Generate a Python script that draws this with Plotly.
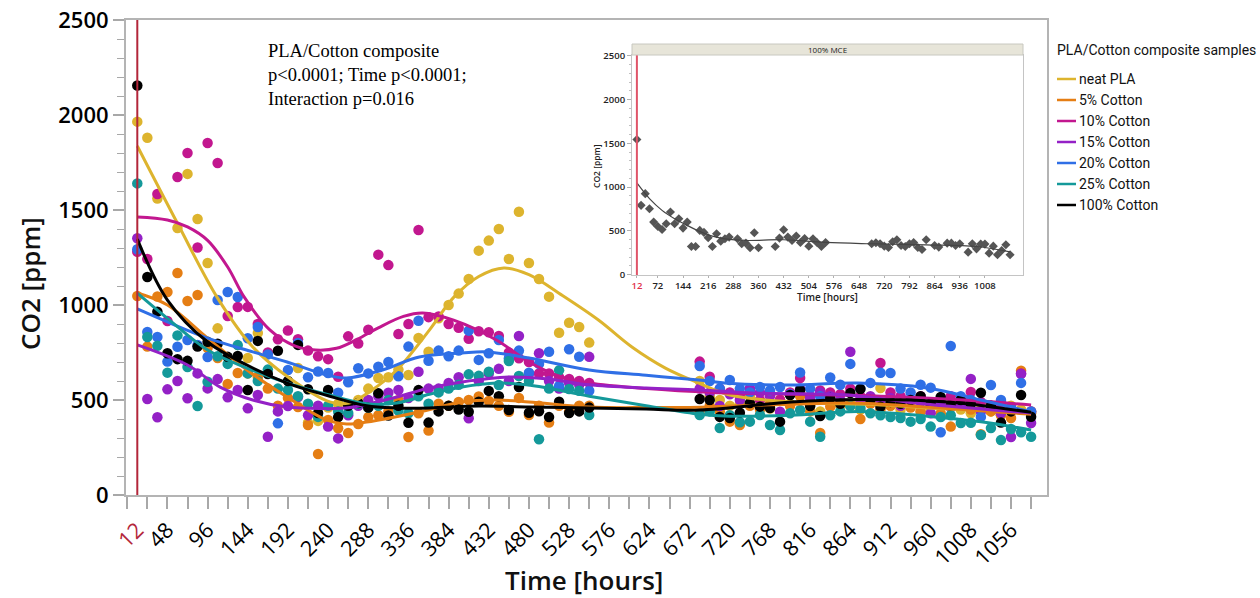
import plotly.graph_objects as go

# ---------------- data ----------------
TIME_H = [12, 24, 36, 48, 60, 72, 84, 96, 108, 120, 132, 144, 156, 168, 180, 192, 204, 216, 228, 240,
          252, 264, 276, 288, 300, 312, 324, 336, 348, 360, 372, 384, 396, 408, 420, 432, 444, 456, 468, 480,
          492, 504, 516, 528, 540, 552,
          684, 696, 708, 720, 732, 744, 756, 768, 780, 792, 804, 816, 828, 840, 852, 864, 876, 888, 900, 912,
          924, 936, 948, 960, 972, 984, 996, 1008, 1020, 1032, 1044, 1056, 1068, 1080]

NEAT_PLA = [1965, 1880, 1560, None, 1405, 1690, 1453, 1221, 877, None, None, 721, 853, None, None, None, 668, 380, 390, 460,
            480, 470, 500, 560, 616, 620, 660, 632, 826, 754, 930, 1000, 1060, 1137, 1286, 1339, 1400, 1242, 1491, 1221,
            1137, 1044, 854, 907, 884, 802,
            600, 520, 500, 470, 480, 520, 470, 455, 500, 480, 540, 470, 440, 500, 470, 480, 450, 500, 563, 470,
            450, 480, 440, 460, 420, 470, 450, 430, 480, 440, 420, 470, 450, 440]
COTTON_5 = [1047, 781, 1045, 1068, 1168, 1021, 1053, 774, 721, 584, 642, 640, 621, 560, 470, 511, 463, 368, 216, 395,
            351, 326, 374, 410, 420, 440, 500, 305, 430, 339, 480, 470, 490, 500, 518, 495, 470, 438, 511, 421,
            470, 381, 470, 440, 470, 470,
            430, 470, 440, 386, 368, 470, 450, 480, 500, 470, 520, 440, 326, 465, 490, 470, 400, 480, 450, 470,
            500, 460, 440, 470, 430, 360, 480, 450, 320, 440, 420, 405, 654, 430]
COTTON_10 = [1280, 1242, 1584, 916, 1674, 1800, 1303, 1853, 1747, 942, 989, 990, 900, 750, 820, 866, 820, 760, 730, 715,
             622, 835, 797, 870, 1265, 1210, 847, 900, 1395, 936, 940, 900, 880, 822, 862, 857, 837, 750, 720, 700,
             640, 640, 620, 611, 600, 590,
             702, 623, 560, 540, 520, 560, 500, 530, 500, 540, 616, 520, 550, 540, 530, 560, 520, 500, 695, 540,
             520, 500, 520, 480, 500, 520, 470, 542, 490, 470, 480, 460, 640, 440]
COTTON_15 = [1351, 505, 409, 556, 600, 509, 640, 561, 610, 514, 553, 456, 526, 307, 440, 468, 516, 420, 470, 360,
             298, 420, 470, 500, 520, 538, 553, 510, 649, 560, 560, 590, 620, 404, 600, 640, 664, 600, 837, 640,
             746, 600, 560, 590, 580, 727,
             560, 540, 468, 530, 500, 560, 540, 520, 438, 530, 560, 510, 540, 520, 500, 754, 500, 520, 480, 510,
             470, 500, 490, 430, 480, 460, 470, 611, 440, 460, 430, 305, 637, 379]
COTTON_20 = [1293, 858, 832, 702, 780, 816, 790, 726, 1026, 1068, 1042, 825, 884, 740, 377, 658, 800, 620, 650, 642,
             538, 593, 667, 640, 675, 700, 625, 781, 917, 707, 760, 730, 760, 865, 711, 746, 816, 720, 760, 644,
             690, 754, 574, 767, 728, 549,
             679, 600, 560, 605, 560, 540, 568, 550, 568, 530, 645, 560, 520, 618, 580, 690, 560, 590, 643, 642,
             560, 540, 580, 565, 330, 784, 520, 500, 411, 579, 500, 460, 590, 440]
COTTON_25 = [1640, 832, 785, 644, 840, 674, 468, 596, 730, 690, 789, 640, 600, 660, 560, 553, 520, 480, 411, 470,
             440, 432, 480, 460, 470, 500, 444, 430, 520, 480, 540, 560, 580, 635, 627, 649, 579, 705, 626, 600,
             293, 560, 656, 558, 549, 421,
             421, 440, 353, 420, 383, 386, 421, 368, 342, 430, 447, 386, 307, 420, 440, 468, 458, 430, 420, 410,
             405, 386, 400, 360, 410, 420, 379, 380, 316, 352, 289, 347, 330, 307]
COTTON_100 = [2155, 1147, 965, 746, 715, 706, 781, 806, 796, 727, 732, 553, 811, 637, 759, 600, 790, 557, 432, 553,
              410, 470, 484, 460, 535, 418, 470, 380, 552, 381, 440, 470, 450, 438, 491, 548, 520, 447, 568, 433,
              441, 410, 491, 432, 440, 460,
              505, 500, 411, 405, 433, 484, 465, 458, 386, 526, 553, 468, 416, 510, 480, 537, 558, 500, 465, 490,
              480, 500, 520, 480, 516, 470, 500, 480, 538, 470, 381, 440, 526, 412]

# fitted smoothers (hours, ppm)
FIT_PLA_H = [12, 60, 108, 150, 192, 242, 265, 290, 322, 361, 390, 420, 450, 480, 520, 563, 603, 643, 683, 720, 793, 900, 980, 1080]
FIT_PLA = [1837, 1430, 1036, 779, 621, 490, 484, 545, 658, 868, 1040, 1150, 1195, 1160, 1050, 921, 779, 668, 589, 526, 490, 474, 452, 440]
FIT_5_H = [12, 48, 96, 143, 191, 238, 262, 286, 349, 400, 441, 480, 552, 620, 684, 792, 864, 950, 1030, 1080]
FIT_5 = [1063, 1000, 826, 658, 516, 395, 374, 384, 437, 490, 500, 490, 463, 460, 462, 478, 484, 465, 440, 425]
FIT_10_H = [12, 48, 72, 96, 120, 140, 170, 200, 225, 250, 275, 300, 330, 353, 390, 441, 480, 519, 552, 620, 700, 800, 900, 1000, 1080]
FIT_10 = [1463, 1447, 1411, 1340, 1200, 1040, 870, 785, 763, 772, 820, 880, 940, 958, 920, 816, 700, 621, 589, 560, 540, 530, 520, 500, 474]
FIT_15_H = [12, 72, 111, 150, 191, 230, 266, 322, 361, 400, 456, 500, 552, 620, 683, 760, 861, 950, 1080]
FIT_15 = [790, 684, 568, 500, 463, 455, 460, 516, 563, 595, 621, 612, 580, 563, 553, 535, 526, 480, 432]
FIT_20_H = [12, 48, 96, 150, 191, 238, 262, 305, 349, 400, 430, 480, 552, 620, 683, 718, 793, 873, 956, 1020, 1080]
FIT_20 = [979, 911, 826, 753, 700, 632, 616, 658, 726, 747, 753, 721, 658, 630, 605, 588, 579, 589, 563, 500, 437]
FIT_25_H = [12, 48, 96, 143, 191, 238, 286, 322, 361, 400, 441, 480, 552, 620, 684, 720, 793, 873, 956, 1020, 1080]
FIT_25 = [1063, 930, 763, 668, 590, 530, 480, 484, 530, 568, 589, 579, 520, 470, 425, 415, 420, 440, 415, 385, 342]
FIT_100_H = [12, 48, 96, 143, 191, 238, 286, 322, 361, 420, 480, 552, 620, 684, 793, 873, 980, 1080]
FIT_100 = [1347, 1026, 805, 684, 589, 525, 470, 458, 458, 468, 463, 458, 452, 447, 490, 503, 490, 435]

SERIES_NAMES = ["neat PLA", "5% Cotton", "10% Cotton", "15% Cotton", "20% Cotton", "25% Cotton", "100% Cotton"]

# inset: 100% MCE
INSET_H = [12, 24, 36, 48, 60, 72, 84, 96, 108, 120, 132, 144, 156, 168, 180, 192, 204, 216, 228, 240,
           252, 264, 276, 300, 312, 324, 336, 348, 360, 408, 420, 432, 444, 456, 468, 480, 492, 504, 516, 528,
           540, 552, 684, 696, 708, 720, 732, 744, 756, 768, 780, 792, 804, 816, 828, 840, 864, 876, 900, 912,
           924, 936, 960, 972, 984, 996, 1008, 1020, 1032, 1044, 1056, 1068, 1080]
INSET_CO2 = [1544, 791, 925, 753, 600, 550, 516, 581, 715, 581, 638, 531, 600, 321, 321, 505, 482, 420, 321, 466,
             382, 409, 428, 409, 352, 359, 306, 478, 306, 321, 417, 512, 428, 390, 440, 367, 413, 325, 409, 363,
             321, 367, 352, 363, 352, 325, 310, 375, 398, 333, 321, 352, 367, 310, 287, 398, 333, 314, 359, 359,
             333, 352, 256, 352, 294, 348, 348, 245, 325, 226, 275, 340, 226]
INSET_FIT_H = [12, 48, 84, 120, 156, 192, 228, 264, 324, 432, 552, 684, 840, 984, 1080]
INSET_FIT = [1047, 868, 734, 638, 562, 493, 440, 409, 390, 398, 367, 352, 340, 321, 260]

X_TICKS = [12, 48, 96, 144, 192, 240, 288, 336, 384, 432, 480, 528, 576, 624, 672, 720, 768, 816, 864, 912, 960, 1008, 1056]
Y_TICKS = [0, 500, 1000, 1500, 2000, 2500]
INSET_X_TICKS = [12, 72, 144, 216, 288, 360, 432, 504, 576, 648, 720, 792, 864, 936, 1008]

# ---------------- styles ----------------
COLORS = ["#DDB42E", "#E57E14", "#C2178F", "#9421C6", "#2F6FE6", "#14999A", "#000000"]
RED = "#B3263A"
FONT = "Open Sans"

L, R, T, B = 126, 1047, 20, 495


def px(x):
    return (x - L) / (R - L)


def py(y):
    return (B - y) / (B - T)


series_vals = [NEAT_PLA, COTTON_5, COTTON_10, COTTON_15, COTTON_20, COTTON_25, COTTON_100]
fits = [(FIT_PLA_H, FIT_PLA), (FIT_5_H, FIT_5), (FIT_10_H, FIT_10), (FIT_15_H, FIT_15),
        (FIT_20_H, FIT_20), (FIT_25_H, FIT_25), (FIT_100_H, FIT_100)]

fig = go.Figure()
for name, vals, col in zip(SERIES_NAMES, series_vals, COLORS):
    fig.add_trace(go.Scatter(x=TIME_H, y=vals, mode="markers", name=name, showlegend=False,
                             marker=dict(size=10.5, color=col), xaxis="x", yaxis="y"))
for name, (fh, fv), col in zip(SERIES_NAMES, fits, COLORS):
    fig.add_trace(go.Scatter(x=fh, y=fv, mode="lines", name=name, showlegend=False,
                             line=dict(color=col, width=3, shape="spline", smoothing=1.0),
                             xaxis="x", yaxis="y"))

# inset
fig.add_trace(go.Scatter(x=INSET_H, y=INSET_CO2, mode="markers", showlegend=False,
                         marker=dict(symbol="diamond", size=7, color="#555555"), xaxis="x2", yaxis="y2"))
fig.add_trace(go.Scatter(x=INSET_FIT_H, y=INSET_FIT, mode="lines", showlegend=False,
                         line=dict(color="#444444", width=1.2, shape="spline", smoothing=1.0),
                         xaxis="x2", yaxis="y2"))

ticktext = [f'<span style="color:{RED}">12</span>'] + [str(v) for v in X_TICKS[1:]]
inset_ticktext = ['<span style="color:#E0304A">12</span>'] + [str(v) for v in INSET_X_TICKS[1:]]

fig.update_layout(
    width=1260, height=598,
    margin=dict(l=L, r=1260 - R, t=T, b=598 - B, autoexpand=False),
    paper_bgcolor="white", plot_bgcolor="white",
    showlegend=False,
    font=dict(family=FONT, color="black"),
    xaxis=dict(domain=[0, 1], range=[-1.5, 1099], tickmode="array", tickvals=X_TICKS, ticktext=ticktext,
               tickangle=-45, ticks="outside", ticklen=12, tickcolor="rgba(0,0,0,0)", automargin=False,
               minor=dict(tickmode="linear", tick0=0, dtick=24, ticks="outside", ticklen=12,
                          tickcolor="#a8a8a8", tickwidth=1.5, showgrid=False),
               showline=True, linecolor="#b4b4b4", linewidth=2, mirror=True,
               showgrid=False, zeroline=False, tickfont=dict(size=21.5, color="black")),
    yaxis=dict(domain=[0, 1], range=[0, 2500], tickmode="array", tickvals=Y_TICKS, automargin=False,
               ticks="outside", ticklen=11, tickcolor="#a8a8a8", tickwidth=1.5,
               minor=dict(tickmode="linear", tick0=0, dtick=100, ticks="outside", ticklen=7,
                          tickcolor="#a8a8a8", tickwidth=1.2, showgrid=False),
               showline=True, linecolor="#b4b4b4", linewidth=2, mirror=True,
               showgrid=False, zeroline=False, tickfont=dict(size=22, color="black", weight=600)),
    xaxis2=dict(domain=[px(632), px(1023)], anchor="y2", range=[-2, 1117], tickmode="array",
                tickvals=INSET_X_TICKS, ticktext=inset_ticktext, ticks="outside", ticklen=2, automargin=False,
                tickcolor="#b0b0b0", showline=True, linecolor="#c4c4c4", linewidth=1, mirror=True,
                showgrid=False, zeroline=False, tickfont=dict(size=9.5, color="#222", weight=600)),
    yaxis2=dict(domain=[py(275), py(55)], anchor="x2", range=[-5, 2510], tickmode="array", automargin=False,
                tickvals=Y_TICKS, ticks="outside", ticklen=4, tickcolor="#b0b0b0",
                minor=dict(tickmode="linear", tick0=0, dtick=100, ticks="outside", ticklen=2,
                           tickcolor="#c0c0c0"),
                showline=True, linecolor="#c4c4c4", linewidth=1, mirror=True,
                showgrid=False, zeroline=False, tickfont=dict(size=9.5, color="#222", weight=600)),
)

shapes = [
    dict(type="line", xref="x", yref="y domain", x0=12, x1=12, y0=0, y1=1, line=dict(color=RED, width=2)),
    dict(type="line", xref="x2", yref="y2 domain", x0=12, x1=12, y0=0, y1=1, line=dict(color="#E05468", width=2)),
    dict(type="rect", xref="paper", yref="paper", x0=px(632), x1=px(1023), y0=py(55), y1=py(44),
         fillcolor="#E7E5D9", line=dict(color="#c8c8c0", width=1)),
]
annotations = [
    dict(text="100% MCE", xref="paper", yref="paper", x=(px(632) + px(1023)) / 2, y=py(49.5),
         showarrow=False, font=dict(size=8, color="#222"), xanchor="center", yanchor="middle"),
    dict(text="Time [hours]", xref="paper", yref="paper", x=px(827), y=py(297), showarrow=False,
         font=dict(size=10, color="#222", weight=600), xanchor="center", yanchor="middle"),
    dict(text="CO2 [ppm]", xref="paper", yref="paper", x=px(596), y=py(166), showarrow=False, textangle=-90,
         font=dict(size=8.5, color="#222", weight=600), xanchor="center", yanchor="middle"),
    dict(text="Time [hours]", xref="paper", yref="paper", x=px(584), y=py(580), showarrow=False,
         font=dict(size=26, color="#111", weight=600), xanchor="center", yanchor="middle"),
    dict(text="CO2 [ppm]", xref="paper", yref="paper", x=px(30), y=py(284), showarrow=False, textangle=-90,
         font=dict(size=26, color="#111", weight=600), xanchor="center", yanchor="middle"),
    dict(text="PLA/Cotton composite<br>p<0.0001; Time p<0.0001;<br>Interaction p=0.016",
         xref="paper", yref="paper", x=px(266), y=py(74.5), showarrow=False, align="left",
         font=dict(family="Liberation Serif", size=18.5, color="black"), xanchor="left", yanchor="middle"),
    dict(text="PLA/Cotton composite samples", xref="paper", yref="paper", x=px(1055), y=py(50),
         showarrow=False, font=dict(family="Roboto", size=14, color="#111"), xanchor="left", yanchor="middle"),
]
LEG_Y = [79, 100, 121, 142, 163, 184, 205]
for name, col, ly in zip(SERIES_NAMES, COLORS, LEG_Y):
    shapes.append(dict(type="line", xref="paper", yref="paper", x0=px(1057), x1=px(1076), y0=py(ly), y1=py(ly),
                       line=dict(color=col, width=2.5)))
    annotations.append(dict(text=name, xref="paper", yref="paper", x=px(1077), y=py(ly), showarrow=False,
                            font=dict(family="Roboto", size=14, color="#111"), xanchor="left", yanchor="middle"))

fig.update_layout(shapes=shapes, annotations=annotations)
fig.write_html("out.html", config={"displayModeBar": False},
               post_script="document.body.style.margin='0px';document.body.style.overflow='hidden';")
